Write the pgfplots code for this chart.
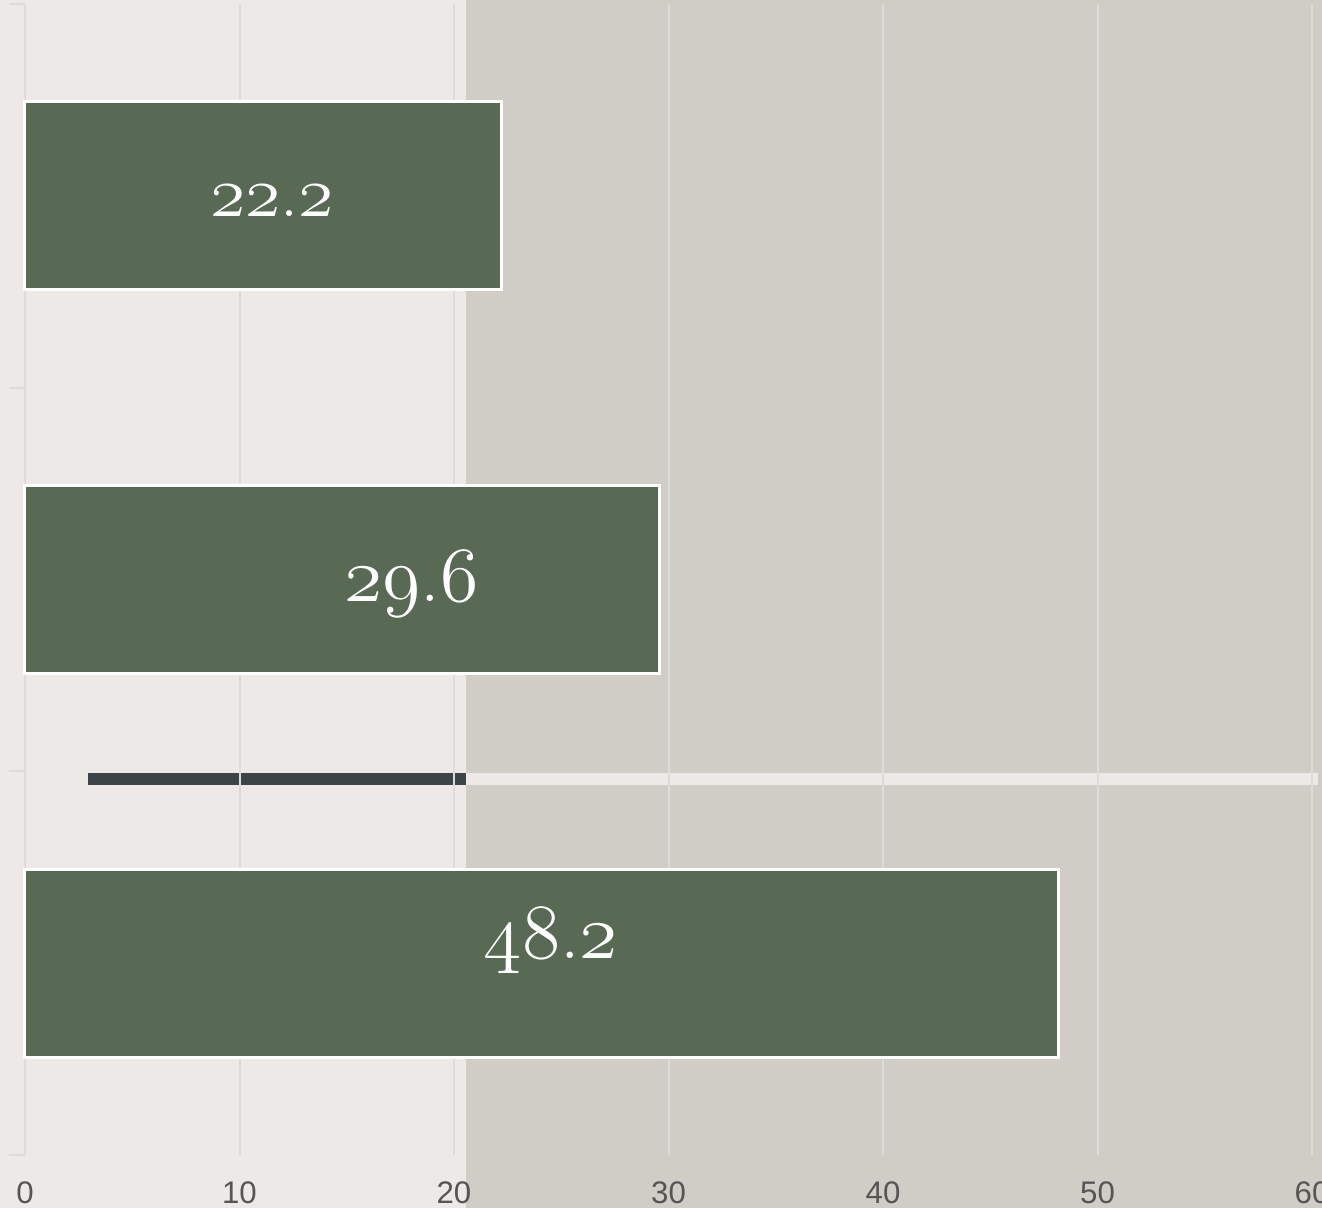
\documentclass[border=0pt]{standalone}
\usepackage{fontspec}
\usepackage{pgfplots}
\pgfplotsset{compat=1.18}
\newfontfamily\tickfont{Liberation Sans}
\DeclareFontFamily{OML}{mycmm}{\skewchar\font=127}
\DeclareFontShape{OML}{mycmm}{m}{it}{<-> cmmi12}{}
\newcommand{\osf}[1]{{\fontencoding{OML}\fontfamily{mycmm}\fontseries{m}\fontshape{it}\selectfont #1}}
\definecolor{bgc}{HTML}{ECE9E6}
\definecolor{shadec}{HTML}{D0CDC6}
\definecolor{barc}{HTML}{586A53}
\definecolor{darkc}{HTML}{3B4547}
\definecolor{gridc}{HTML}{DCDCDC}
\definecolor{tickc}{HTML}{555555}
\begin{document}
\begin{tikzpicture}
\begin{axis}[
 at={(0,0)}, anchor=south west,
 scale only axis, width=643.5pt, height=575.5pt,
 xmin=0, xmax=60, ymin=-0.5, ymax=2.5,
 set layers, clip=false,
 axis x line*=bottom, axis y line*=left,
 x axis line style={draw=none},
 y axis line style={draw=gridc, line width=1pt, -},
 xtick={0,10,...,60}, ytick={-0.5,0.5,1.5,2.5}, yticklabels={},
 xmajorgrids, grid style={draw=gridc, line width=1pt},
 tick align=outside, major tick length=8pt,
 xtick style={draw=none},
 ytick style={draw=gridc, line width=1pt},
 xticklabel style={font=\tickfont\fontsize{15.6}{18}\selectfont, text=tickc, inner sep=0pt, yshift=-5.4pt},
 /pgf/number format/assume math mode=true,
]
\begin{pgfonlayer}{axis background}
\fill[bgc] (axis cs:-5,-1) rectangle (axis cs:65,3);
\fill[shadec] (axis cs:20.55,-1) rectangle (axis cs:65,3);
\end{pgfonlayer}
\addplot[on layer=axis background, draw=darkc, line width=6pt] coordinates {(2.95,0.48) (20.55,0.48)};
\addplot[on layer=axis background, draw=bgc, line width=6pt] coordinates {(20.55,0.48) (60.3,0.48)};
\addplot[xbar, bar width=94pt, fill=barc, draw=white, line width=1.5pt] coordinates {(22.2,2) (29.6,1) (48.2,0)};
\node[anchor=base, text=white, font=\fontsize{36}{42}\selectfont] at (axis cs:11.52,1.947) {\osf{22}.\osf{2}};
\node[anchor=base, text=white, font=\fontsize{39}{46}\selectfont] at (axis cs:18.02,0.943) {\osf{29}.\osf{6}};
\node[anchor=base, text=white, font=\fontsize{39}{46}\selectfont] at (axis cs:24.52,0.013) {\osf{48}.\osf{2}};
\end{axis}
\pgfresetboundingbox
\path[use as bounding box] (-12.5pt,-26.5pt) rectangle (648.5pt,577.5pt);
\end{tikzpicture}
\end{document}
